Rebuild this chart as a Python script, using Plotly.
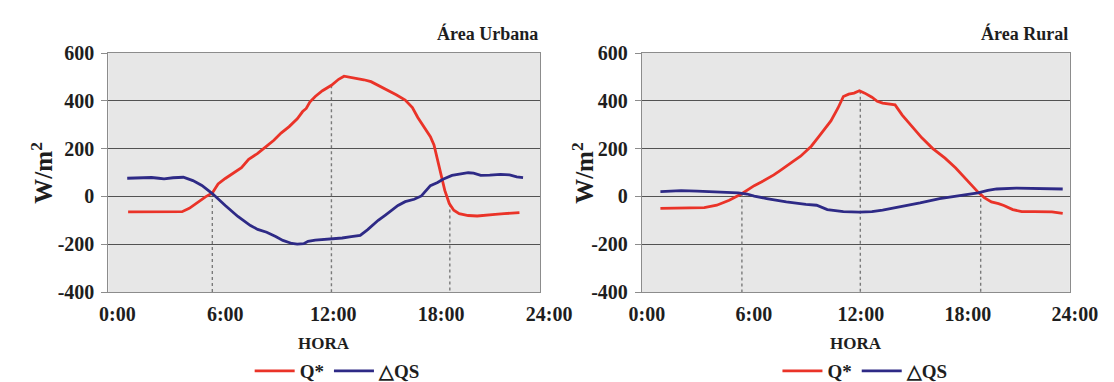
import plotly.graph_objects as go

# ---------------- data ----------------
hours_ticks = [0, 6, 12, 18, 24]
tick_text = ["0:00", "6:00", "12:00", "18:00", "24:00"]
y_ticks = [-400, -200, 0, 200, 400, 600]
y_tick_text = ["-400", "-200", "0", "200", "400", "600"]

urb_q_h = [1.1, 2.0, 3.0, 4.1, 4.5, 5.0, 5.4, 5.78, 6.1, 6.5, 7.0, 7.4, 7.8, 8.3, 8.8, 9.2, 9.6, 10.05,
           10.5, 10.8, 11.0, 11.2, 11.5, 11.9, 12.4, 12.8, 13.1, 13.5, 13.9, 14.2, 14.6, 15.0, 15.5,
           16.0, 16.5, 16.9, 17.2, 17.6, 17.9, 18.1, 18.3, 18.5, 18.7, 18.95, 19.2, 19.5, 20.0, 20.5,
           21.0, 21.5, 22.0, 22.85]
urb_q_v = [-65, -65, -65, -64, -50, -22, -2, 14, 52, 75, 100, 120, 155, 180, 210, 235, 265, 292,
           325, 355, 368, 395, 418, 442, 465, 490, 503, 498, 492, 488, 480, 465, 447,
           425, 403, 372, 330, 285, 250, 215, 150, 80, 25, -30, -58, -72, -80, -82,
           -80, -75, -72, -68]

urb_s_h = [1.05, 1.6, 2.4, 2.8, 3.1, 3.6, 4.17, 4.7, 5.2, 5.78, 6.2, 6.5, 7.2, 7.9, 8.3, 8.8, 9.3,
           9.7, 10.2, 10.5, 10.86, 11.1, 11.5, 12.0, 12.4, 13.0, 13.5, 14.0, 14.4, 14.7, 15.0, 15.4,
           15.8, 16.1, 16.5, 17.0, 17.4, 17.6, 17.9, 18.3, 18.6, 19.1, 19.5, 20.0, 20.3, 20.7, 21.2,
           21.8, 22.3, 22.7, 23.05]
urb_s_v = [76, 77, 79, 76, 73, 78, 80, 66, 46, 12, -18, -38, -84, -122, -138, -150, -168,
           -184, -197, -200, -198, -188, -183, -181, -179, -174, -168, -163, -140, -118, -100, -78,
           -55, -38, -22, -12, 2, 20, 45, 58, 72, 88, 94, 99, 97, 88, 89,
           92, 90, 82, 79]

rur_q_h = [1.04, 2.0, 3.0, 3.5, 4.2, 4.9, 5.6, 6.0, 6.3, 6.7, 7.0, 7.4, 7.75, 8.1, 8.5, 8.9, 9.2, 9.5,
           9.9, 10.3, 10.6, 11.0, 11.3, 11.6, 11.9, 12.2, 12.5, 12.9, 13.2, 13.5, 13.9, 14.2, 14.6,
           15.1, 15.7, 16.3, 17.0, 17.6, 18.2, 18.85, 19.2, 19.6, 20.0, 20.3, 20.8, 21.3, 22.0, 22.5,
           23.0, 23.6]
rur_q_v = [-50, -50, -49, -47, -37, -16, 11, 30, 45, 60, 72, 90, 108, 125, 148, 168, 187, 210,
           248, 285, 316, 370, 418, 428, 432, 442, 432, 415, 398, 390, 385, 383, 340,
           295, 245, 201, 160, 119, 70, 18, -5, -23, -30, -38, -55, -64, -64, -64,
           -65, -71]

rur_s_h = [1.04, 2.2, 3.1, 4.2, 5.4, 5.9, 6.3, 7.0, 8.1, 9.2, 9.8, 10.4, 11.3, 12.2, 12.9, 13.5,
           14.5, 15.6, 16.7, 17.6, 18.3, 18.85, 19.4, 19.9, 21.0, 22.0, 22.7, 23.6]
rur_s_v = [20, 24, 22, 18, 15, 10, 1, -9, -23, -33, -37, -55, -64, -66, -64, -57,
           -43, -27, -9, 1, 8, 15, 25, 31, 35, 34, 33, 31]

urb_mark_h = [5.78, 12.4, 18.98]
urb_mark_top = [14, 465, -30]
rur_mark_h = [5.61, 12.25, 19.0]
rur_mark_top = [12, 442, 15]

titles = ["Área Urbana", "Área Rural"]
series_names = ["Q*", "△QS"]

# ---------------- style ----------------
RED = "#ea3328"
BLUE = "#2e2a86"
FONT = "Liberation Serif, 'Times New Roman', Times, serif"
W, H = 1114, 382
L1, R1 = 91, 541
L2, R2 = 647, 1093
TOP, BOT = 45, 291
LEG_CX = [330, 880]
YTITLE_OFF = [70, 62]

fig = go.Figure()

panels = [
    (urb_q_h, urb_q_v, urb_s_h, urb_s_v, urb_mark_h, urb_mark_top, "x", "y", "legend"),
    (rur_q_h, rur_q_v, rur_s_h, rur_s_v, rur_mark_h, rur_mark_top, "x2", "y2", "legend2"),
]

for qh, qv, sh, sv, mh, mt, xa, ya, lg in panels:
    for h, t in zip(mh, mt):
        fig.add_trace(go.Scatter(x=[h, h], y=[t, -400], mode="lines", xaxis=xa, yaxis=ya,
                                 line=dict(color="#7a7a7a", width=1.4, dash="dot"),
                                 showlegend=False, hoverinfo="skip"))
    fig.add_trace(go.Scatter(x=qh, y=qv, mode="lines", name=series_names[0], xaxis=xa, yaxis=ya,
                             line=dict(color=RED, width=2.8), legend=lg))
    fig.add_trace(go.Scatter(x=sh, y=sv, mode="lines", name=series_names[1], xaxis=xa, yaxis=ya,
                             line=dict(color=BLUE, width=2.8), legend=lg))

tickfont = dict(family=FONT, size=20, color="#1e1e1e", weight="bold")

def xaxis(dom, shift):
    return dict(domain=dom, range=[0, 24], tickvals=hours_ticks, ticktext=tick_text,
                showgrid=False, zeroline=False, showline=True, mirror=True,
                linecolor="#8c8c8c", linewidth=1, ticks="", tickfont=tickfont,
                ticklabelshift=shift, ticklabelstandoff=4, fixedrange=True)

def yaxis(anchor):
    return dict(domain=[0, 1], range=[-400, 600], tickvals=y_ticks, ticktext=y_tick_text,
                showgrid=True, gridcolor="#525252", gridwidth=1.3, zeroline=False,
                showline=True, mirror=True, linecolor="#8c8c8c", linewidth=1,
                ticks="outside", ticklen=6, tickcolor="#8c8c8c", tickfont=tickfont,
                ticklabelstandoff=3, anchor=anchor, fixedrange=True)

legend_y = -(373 - BOT) / (BOT - TOP)
legend_font = dict(family=FONT, size=19, color="#1e1e1e", weight="bold")
fig.update_layout(
    width=W, height=H,
    margin=dict(l=0, r=0, t=TOP, b=H - BOT),
    paper_bgcolor="white", plot_bgcolor="#e7e7e7",
    xaxis=xaxis([L1 / W, R1 / W], 9),
    xaxis2=xaxis([L2 / W, R2 / W], 5),
    yaxis=yaxis("x"),
    yaxis2=yaxis("x2"),
    showlegend=True,
    legend=dict(orientation="h", x=LEG_CX[0] / W, xanchor="center",
                y=legend_y, yanchor="middle", font=legend_font,
                bgcolor="rgba(0,0,0,0)", itemwidth=40, tracegroupgap=0),
    legend2=dict(orientation="h", x=LEG_CX[1] / W, xanchor="center",
                 y=legend_y, yanchor="middle", font=legend_font,
                 bgcolor="rgba(0,0,0,0)", itemwidth=40, tracegroupgap=0),
)

for (lft, rgt), title, yoff in zip([(L1, R1), (L2, R2)], titles, YTITLE_OFF):
    fig.add_annotation(text=title, xref="paper", yref="paper", x=rgt / W, xanchor="right",
                       y=(BOT - 25) / (BOT - TOP), yanchor="middle", showarrow=False,
                       font=dict(family=FONT, size=18, color="#1e1e1e", weight="bold"))
    fig.add_annotation(text="HORA", xref="paper", yref="paper", x=(lft + rgt) / 2 / W,
                       xanchor="center", y=-(344 - BOT) / (BOT - TOP), yanchor="middle",
                       showarrow=False,
                       font=dict(family=FONT, size=17, color="#1e1e1e", weight="bold"))
    fig.add_annotation(text="W/m<sup>2</sup>", xref="paper", yref="paper", x=(lft - yoff) / W,
                       xanchor="center", y=0.5, yanchor="middle", textangle=-90, showarrow=False,
                       font=dict(family=FONT, size=25, color="#1e1e1e", weight="bold"))

fig.write_html("out.html")
